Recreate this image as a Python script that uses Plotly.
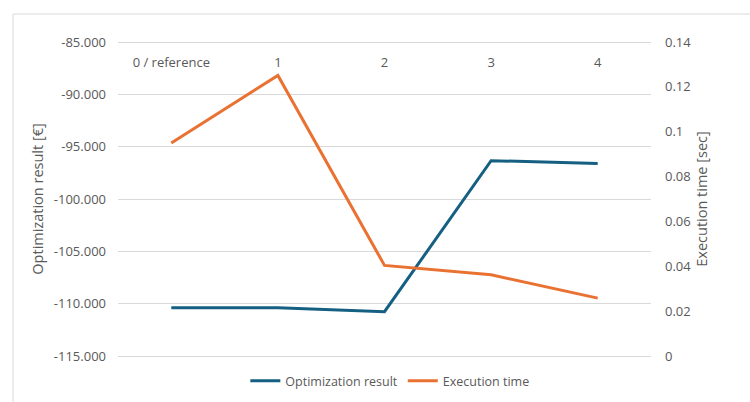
import plotly.graph_objects as go

# Scenario labels and measured results
categories = ["0 / reference", "1", "2", "3", "4"]
optimization_result = [-110380, -110380, -110770, -96340, -96600]   # €
execution_time = [0.0950, 0.1251, 0.0404, 0.0362, 0.0258]           # seconds

left_ticks = [-115000, -110000, -105000, -100000, -95000, -90000, -85000]
left_ticktext = [f"{v:,.0f}".replace(",", ".") for v in left_ticks]
left_range = [-115000, -85000]
right_range = [0, 0.14]

BLUE = "#156082"
ORANGE = "#E97132"
GRAY_TEXT = "#595959"
GRID = "#D9D9D9"
FONT = "Open Sans"

fig = go.Figure()

fig.add_trace(go.Scatter(
    x=categories, y=optimization_result, name="Optimization result",
    mode="lines", line=dict(color=BLUE, width=3), yaxis="y",
))
fig.add_trace(go.Scatter(
    x=categories, y=execution_time, name="Execution time",
    mode="lines", line=dict(color=ORANGE, width=3), yaxis="y2",
))

W, H = 750, 402
GRID_TOP, GRID_BOTTOM = 42, 356     # pixel rows of the outermost gridlines
PAD = 4                             # extra plot height above/below them
ml, mr = 118, 99
mt, mb = GRID_TOP - PAD, H - GRID_BOTTOM - PAD
pw, ph = W - ml - mr, H - mt - mb
core_h = GRID_BOTTOM - GRID_TOP


def paper_y(py):
    return (H - mb - py) / ph


def padded(r):
    # widen the range so the end gridlines sit PAD px inside the plot
    d = (r[1] - r[0]) * PAD / core_h
    return [r[0] - d, r[1] + d]


# outer chart frame (only left and top edges fall inside the page)
fig.add_shape(
    type="rect", xref="paper", yref="paper",
    x0=(13 - ml) / pw, x1=(W + 20 - ml) / pw,
    y0=paper_y(H + 20), y1=paper_y(14),
    line=dict(color=GRID, width=1), fillcolor="rgba(0,0,0,0)", layer="below",
)

fig.update_layout(
    width=W, height=H,
    margin=dict(l=ml, r=mr, t=mt, b=mb, autoexpand=False),
    paper_bgcolor="white", plot_bgcolor="white",
    font=dict(family=FONT, size=13, color=GRAY_TEXT),
    showlegend=True,
    legend=dict(
        orientation="h", x=0.51, xanchor="center",
        y=paper_y(381), yanchor="middle",
        font=dict(size=12.5, color=GRAY_TEXT),
        itemwidth=30, bgcolor="rgba(0,0,0,0)",
    ),
    # category axis hangs just below the top gridline
    xaxis=dict(
        type="category", range=[-0.5, 4.5],
        anchor="free", position=paper_y(51), side="bottom",
        ticklabelstandoff=2,
        showgrid=False, zeroline=False, showline=False, ticks="",
        tickfont=dict(size=13, color=GRAY_TEXT),
    ),
    yaxis=dict(
        range=padded(left_range), tickvals=left_ticks, ticktext=left_ticktext,
        showgrid=True, gridcolor=GRID, gridwidth=1, zeroline=False,
        showline=False, ticks="", ticklabelstandoff=11,
        tickfont=dict(size=13, color=GRAY_TEXT),
        title=dict(text="Optimization result [€]", standoff=6,
                   font=dict(size=14.5, color=GRAY_TEXT)),
    ),
    yaxis2=dict(
        range=padded(right_range), dtick=0.02, tick0=0,
        overlaying="y", side="right",
        showgrid=False, zeroline=False, showline=False, ticks="",
        ticklabelstandoff=13,
        tickfont=dict(size=13, color=GRAY_TEXT),
        title=dict(text="Execution time [sec]", standoff=6,
                   font=dict(size=14.5, color=GRAY_TEXT)),
    ),
)

fig.write_html("out.html")
